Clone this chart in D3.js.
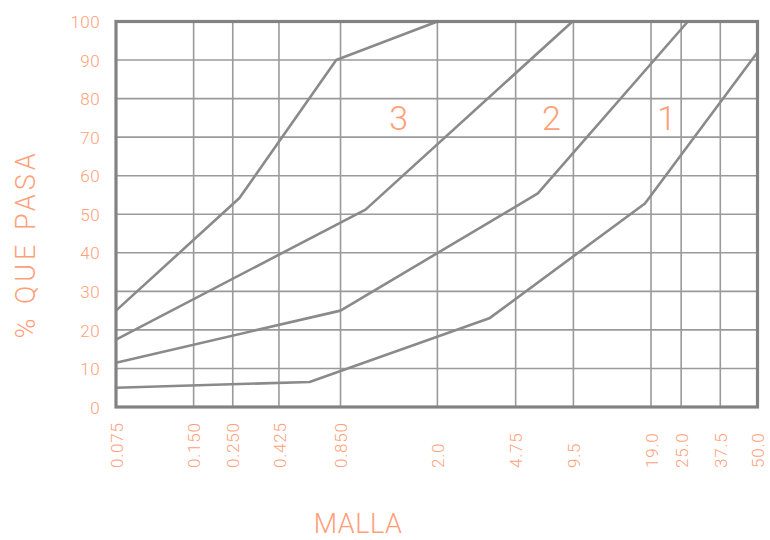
<!DOCTYPE html>
<html>
<head>
<meta charset="utf-8">
<script src="https://cdn.jsdelivr.net/npm/d3@7"></script>
<style>
  html, body { margin: 0; padding: 0; background: #fff; }
  text { font-family: Roboto, "DejaVu Sans", sans-serif; font-weight: 300; fill: #ffa07a; }
</style>
</head>
<body>
<svg id="chart" width="770" height="540"></svg>
<script>
// Sieve openings (mm) shown on the x axis
const sieves = [0.075, 0.150, 0.250, 0.425, 0.850, 2.0, 4.75, 9.5, 19.0, 25.0, 37.5, 50.0];
const sieveLabels = ["0.075", "0.150", "0.250", "0.425", "0.850", "2.0", "4.75", "9.5", "19.0", "25.0", "37.5", "50.0"];
// Where each sieve line sits along the axis (fraction of plot width)
const sieveSpacing = [0, 0.121, 0.182, 0.254, 0.350, 0.501, 0.623, 0.713, 0.834, 0.881, 0.942, 1];

const pctTicks = [0, 10, 20, 30, 40, 50, 60, 70, 80, 90, 100];

// Grading limit curves: sieve size (mm) and percent passing
const lowerSize = [0.075, 0.6, 3.55, 18.0, 50.0];
const lowerPass = [5, 6.5, 23, 52.8, 92];
const limit1Size = [0.075, 0.85, 6.2, 26.8];
const limit1Pass = [11.5, 25, 55.4, 100];
const limit2Size = [0.075, 1.06, 9.4];
const limit2Pass = [17.5, 51.2, 100];
const limit3Size = [0.075, 0.27, 0.81, 2.0];
const limit3Pass = [25, 54.2, 90, 100];

// Zone labels
const zoneNames = ["3", "2", "1"];
const zoneSize = [1.42, 7.3, 21.9];
const zonePass = [75, 75, 75];

const svg = d3.select("#chart");
const plotL = 116, plotR = 757.5, plotT = 21.5, plotB = 407;
const plotW = plotR - plotL;

const x = d3.scaleLog()
  .domain(sieves)
  .range(sieveSpacing.map(f => plotL + f * plotW));
const y = d3.scaleLinear().domain([0, 100]).range([plotB, plotT]);

const gridColor = "#9a9a9a";

// Horizontal grid
svg.append("g")
  .selectAll("line")
  .data(pctTicks.slice(1, -1))
  .join("line")
  .attr("x1", plotL).attr("x2", plotR)
  .attr("y1", d => y(d)).attr("y2", d => y(d))
  .attr("stroke", gridColor).attr("stroke-width", 1.6);

// Vertical grid
svg.append("g")
  .selectAll("line")
  .data(sieves.slice(1, -1))
  .join("line")
  .attr("x1", d => x(d)).attr("x2", d => x(d))
  .attr("y1", plotT).attr("y2", plotB)
  .attr("stroke", gridColor).attr("stroke-width", 1.6);

// Curves
const curves = [
  [lowerSize, lowerPass],
  [limit1Size, limit1Pass],
  [limit2Size, limit2Pass],
  [limit3Size, limit3Pass]
];
const line = d3.line().x(d => x(d[0])).y(d => y(d[1]));
svg.append("g")
  .selectAll("path")
  .data(curves.map(([s, p]) => s.map((v, i) => [v, p[i]])))
  .join("path")
  .attr("d", line)
  .attr("fill", "none")
  .attr("stroke", "#8a8a8a")
  .attr("stroke-width", 2.6)
  .attr("stroke-linejoin", "round");

// Frame
svg.append("rect")
  .attr("x", plotL).attr("y", plotT)
  .attr("width", plotW).attr("height", plotB - plotT)
  .attr("fill", "none")
  .attr("stroke", "#828282")
  .attr("stroke-width", 3.2);

// Y axis labels
const yAxis = d3.axisLeft(y).tickValues(pctTicks).tickSize(0).tickPadding(0);
const gy = svg.append("g").attr("transform", `translate(${plotL - 16},0)`).call(yAxis);
gy.select(".domain").remove();
gy.selectAll("text")
  .attr("fill", null)
  .style("font-size", "17px")
  .style("letter-spacing", "0.4px")
  .attr("dy", "0.36em");

// X axis labels (rotated)
const xAxis = d3.axisBottom(x).tickValues(sieves).tickFormat((d, i) => sieveLabels[i]).tickSize(0);
const gx = svg.append("g").attr("transform", `translate(0,${plotB})`).call(xAxis);
gx.select(".domain").remove();
gx.selectAll("text")
  .attr("fill", null)
  .style("font-size", "17px")
  .attr("text-anchor", "start")
  .attr("transform", "translate(0,61) rotate(-90)")
  .attr("x", 0).attr("y", 0)
  .attr("dy", "0.36em")
  .style("letter-spacing", "0.8px");

// Zone numbers
svg.append("g")
  .selectAll("text")
  .data(zoneNames)
  .join("text")
  .attr("x", (d, i) => x(zoneSize[i]))
  .attr("y", (d, i) => y(zonePass[i]))
  .attr("dy", "0.36em")
  .attr("text-anchor", "middle")
  .style("font-size", "34px")
  .text(d => d);

// Axis titles
svg.append("text")
  .attr("x", 358).attr("y", 533)
  .attr("text-anchor", "middle")
  .style("font-size", "27px")
  .style("letter-spacing", "0.5px")
  .text("MALLA");

svg.append("text")
  .attr("transform", "translate(25,244) rotate(-90)")
  .attr("text-anchor", "middle")
  .attr("dy", "0.36em")
  .style("font-size", "27px")
  .style("letter-spacing", "4px")
  .text("% QUE PASA");
</script>
</body>
</html>
